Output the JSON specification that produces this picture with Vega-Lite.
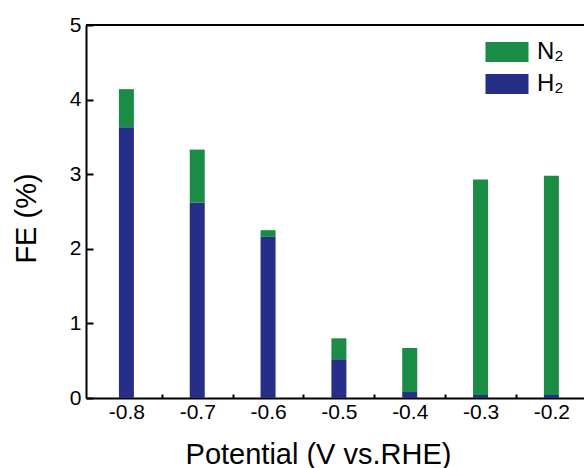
{
  "$schema": "https://vega.github.io/schema/vega-lite/v6.json",
  "width": 498,
  "height": 373,
  "autosize": {"type": "none"},
  "padding": {"left": 86, "top": 25, "right": 0, "bottom": 70},
  "background": "white",
  "view": {"stroke": null},
  "config": {
    "font": "Liberation Sans",
    "axis": {"grid": false, "domainColor": "black", "domainWidth": 2, "tickColor": "black", "tickWidth": 2, "labelColor": "black", "titleColor": "black", "labelFont": "Liberation Sans", "titleFont": "Liberation Sans", "titleFontWeight": "normal", "labelFontSize": 21, "titleFontSize": 29}
  },
  "data": {"values": [
    {"potential": -0.8, "gas": "H₂", "fe": 3.63},
    {"potential": -0.8, "gas": "N₂", "fe": 0.51},
    {"potential": -0.7, "gas": "H₂", "fe": 2.62},
    {"potential": -0.7, "gas": "N₂", "fe": 0.71},
    {"potential": -0.6, "gas": "H₂", "fe": 2.16},
    {"potential": -0.6, "gas": "N₂", "fe": 0.09},
    {"potential": -0.5, "gas": "H₂", "fe": 0.52},
    {"potential": -0.5, "gas": "N₂", "fe": 0.28},
    {"potential": -0.4, "gas": "H₂", "fe": 0.08},
    {"potential": -0.4, "gas": "N₂", "fe": 0.59},
    {"potential": -0.3, "gas": "H₂", "fe": 0.04},
    {"potential": -0.3, "gas": "N₂", "fe": 2.89},
    {"potential": -0.2, "gas": "H₂", "fe": 0.04},
    {"potential": -0.2, "gas": "N₂", "fe": 2.94}
  ]},
  "layer": [
    {
      "mark": {"type": "bar", "size": 15},
      "encoding": {
        "x": {
          "field": "potential", "type": "quantitative",
          "scale": {"domain": [-0.85, -0.161], "nice": false, "zero": false},
          "axis": {
            "title": "Potential (V vs.RHE)",
            "values": [-0.8, -0.75, -0.7, -0.65, -0.6, -0.55, -0.5, -0.45, -0.4, -0.35, -0.3, -0.25, -0.2],
            "labelExpr": "abs(round(datum.value*20)) % 2 === 0 ? replace(format(datum.value, '.1f'), '−', '-') : ''",
            "tickSize": {"expr": "abs(round(datum.value*20)) % 2 === 0 ? -7 : -4"},
            "labelPadding": 10,
            "labelBaseline": "top",
            "titleAnchor": "start",
            "titleAlign": "center",
            "titleBaseline": "alphabetic",
            "titleX": 232,
            "titleY": 65
          }
        },
        "y": {
          "field": "fe", "type": "quantitative", "stack": "zero",
          "scale": {"domain": [0, 5], "nice": false},
          "axis": {
            "title": "FE (%)",
            "values": [0, 0.5, 1, 1.5, 2, 2.5, 3, 3.5, 4, 4.5, 5],
            "labelExpr": "round(datum.value*2) % 2 === 0 ? format(datum.value, 'd') : ''",
            "tickSize": {"expr": "round(datum.value*2) % 2 === 0 ? -7 : -4"},
            "labelPadding": 12,
            "titleAngle": -90,
            "titleAlign": "center",
            "titleBaseline": "alphabetic",
            "titleX": -51,
            "titleY": 193
          }
        },
        "color": {
          "field": "gas", "type": "nominal",
          "scale": {"domain": ["N₂", "H₂"], "range": ["#1b8c45", "#262e87"]},
          "legend": {
            "title": null,
            "orient": "none",
            "legendX": 401,
            "legendY": 7,
            "symbolType": "M-1.075,-0.5h2.15v1h-2.15z",
            "symbolSize": 1600,
            "symbolStrokeWidth": 0,
            "labelFontSize": 24,
            "labelFont": "Liberation Sans",
            "labelColor": "black",
            "rowPadding": -8,
            "labelOffset": 10
          }
        },
        "order": {"field": "gas", "sort": "ascending"}
      }
    },
    {
      "mark": {"type": "rule", "color": "black", "strokeWidth": 2},
      "encoding": {"y": {"datum": 5}}
    }
  ]
}
